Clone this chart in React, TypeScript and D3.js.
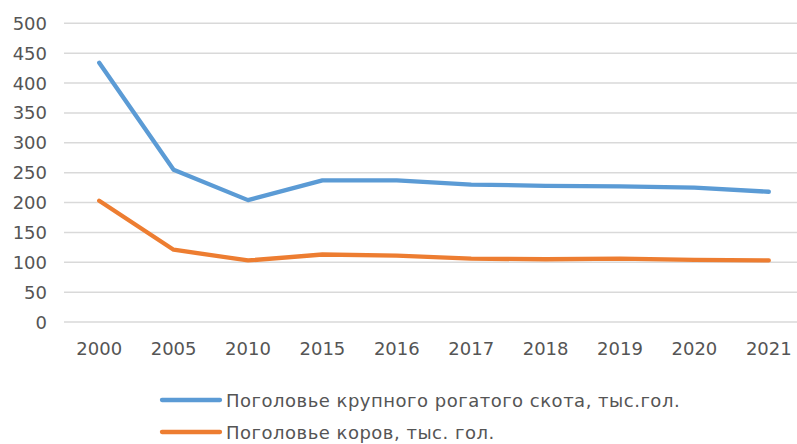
import React from "react";
import * as d3 from "d3";

const years = ["2000", "2005", "2010", "2015", "2016", "2017", "2018", "2019", "2020", "2021"];
const cattle = [434, 255, 204, 237, 237, 230, 228, 227, 225, 218];
const cows = [203, 121, 103, 113, 111, 106, 105, 106, 104, 103];
const yTicks = [0, 50, 100, 150, 200, 250, 300, 350, 400, 450, 500];
const seriesNames = [
  "Поголовье крупного рогатого скота, тыс.гол.",
  "Поголовье коров, тыс. гол.",
];
const seriesColors = ["#5b9bd5", "#ed7d31"];

const W = 797;
const H = 444;

export default function App() {
  const x = d3.scaleBand<string>().domain(years).range([62, 806]);
  const y = d3.scaleLinear().domain([0, 500]).range([322, 23.3]);
  const cx = (d: string) => (x(d) ?? 0) + x.bandwidth() / 2;
  const line = d3
    .line<number>()
    .x((_, i) => cx(years[i]))
    .y((v) => y(v));
  const series = [cattle, cows];
  const font = "'DejaVu Sans', sans-serif";
  const textColor = "#555555";

  return (
    <svg
      width={W}
      height={H}
      style={{ position: "absolute", left: 0, top: 0, background: "#fff" }}
      fontFamily={font}
    >
      {yTicks.map((t) => (
        <g key={t}>
          <line x1={64} x2={W} y1={y(t)} y2={y(t)} stroke="#d9d9d9" strokeWidth={1.5} />
          <text x={47} y={y(t) + 6.5} textAnchor="end" fontSize={18} fill={textColor}>
            {t}
          </text>
        </g>
      ))}
      {years.map((yr) => (
        <text key={yr} x={cx(yr)} y={354.5} textAnchor="middle" fontSize={18} fill={textColor}>
          {yr}
        </text>
      ))}
      {series.map((s, i) => (
        <path
          key={i}
          d={line(s) ?? ""}
          fill="none"
          stroke={seriesColors[i]}
          strokeWidth={4.3}
          strokeLinecap="round"
          strokeLinejoin="round"
        />
      ))}
      {seriesNames.map((n, i) => {
        const ly = 400 + i * 32;
        return (
          <g key={n}>
            <line x1={162} x2={220} y1={ly} y2={ly} stroke={seriesColors[i]} strokeWidth={4.3} strokeLinecap="round" />
            <text x={226} y={ly + 6.5} fontSize={18} fill={textColor} letterSpacing={0.5}>
              {n}
            </text>
          </g>
        );
      })}
    </svg>
  );
}
